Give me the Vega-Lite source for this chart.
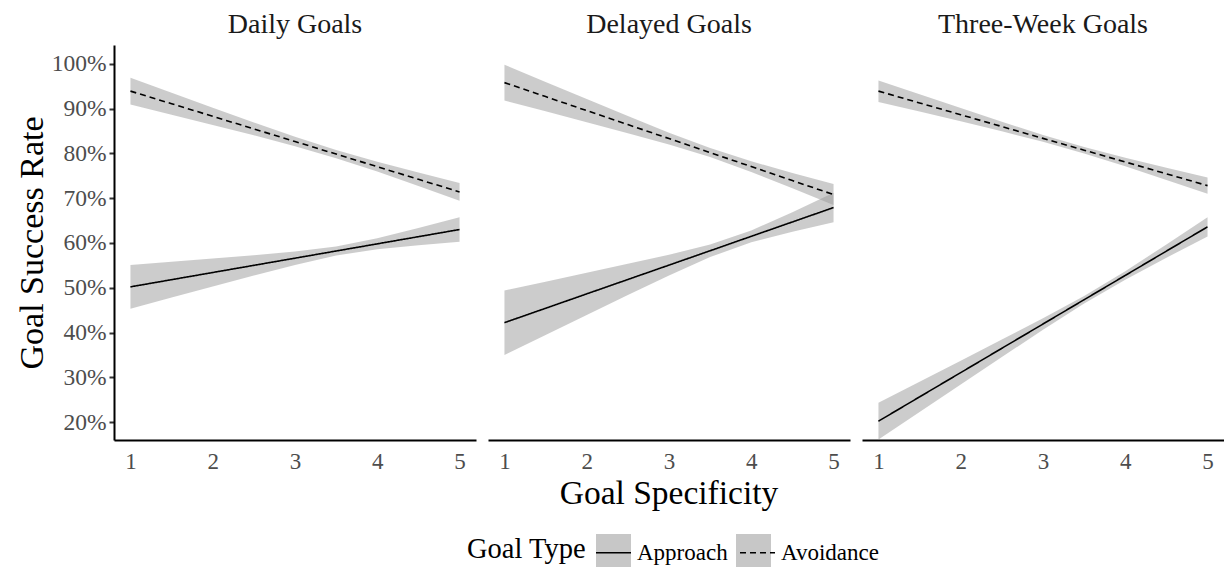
{
  "$schema": "https://vega.github.io/schema/vega-lite/v6.json",
  "background": "white",
  "padding": {"left": 15, "top": 11, "right": 0, "bottom": 0},
  "data": {"values": [
    {"panel": "Daily Goals", "type": "Approach", "x": 1, "fit": 50.2, "lo": 45.3, "hi": 55.1},
    {"panel": "Daily Goals", "type": "Approach", "x": 1.5, "fit": 51.8, "lo": 47.8, "hi": 55.8},
    {"panel": "Daily Goals", "type": "Approach", "x": 2, "fit": 53.4, "lo": 50.28, "hi": 56.52},
    {"panel": "Daily Goals", "type": "Approach", "x": 2.5, "fit": 55.0, "lo": 52.73, "hi": 57.27},
    {"panel": "Daily Goals", "type": "Approach", "x": 3, "fit": 56.6, "lo": 55.1, "hi": 58.1},
    {"panel": "Daily Goals", "type": "Approach", "x": 3.5, "fit": 58.2, "lo": 57.18, "hi": 59.22},
    {"panel": "Daily Goals", "type": "Approach", "x": 4, "fit": 59.8, "lo": 58.57, "hi": 61.03},
    {"panel": "Daily Goals", "type": "Approach", "x": 4.5, "fit": 61.4, "lo": 59.48, "hi": 63.32},
    {"panel": "Daily Goals", "type": "Approach", "x": 5, "fit": 63.0, "lo": 60.25, "hi": 65.75},
    {"panel": "Daily Goals", "type": "Avoidance", "x": 1, "fit": 93.9, "lo": 90.9, "hi": 96.9},
    {"panel": "Daily Goals", "type": "Avoidance", "x": 1.5, "fit": 91.09, "lo": 88.64, "hi": 93.54},
    {"panel": "Daily Goals", "type": "Avoidance", "x": 2, "fit": 88.28, "lo": 86.36, "hi": 90.2},
    {"panel": "Daily Goals", "type": "Avoidance", "x": 2.5, "fit": 85.46, "lo": 84.03, "hi": 86.89},
    {"panel": "Daily Goals", "type": "Avoidance", "x": 3, "fit": 82.65, "lo": 81.6, "hi": 83.7},
    {"panel": "Daily Goals", "type": "Avoidance", "x": 3.5, "fit": 79.84, "lo": 78.94, "hi": 80.74},
    {"panel": "Daily Goals", "type": "Avoidance", "x": 4, "fit": 77.03, "lo": 75.93, "hi": 78.13},
    {"panel": "Daily Goals", "type": "Avoidance", "x": 4.5, "fit": 74.21, "lo": 72.71, "hi": 75.71},
    {"panel": "Daily Goals", "type": "Avoidance", "x": 5, "fit": 71.4, "lo": 69.4, "hi": 73.4},
    {"panel": "Delayed Goals", "type": "Approach", "x": 1, "fit": 42.2, "lo": 35.0, "hi": 49.4},
    {"panel": "Delayed Goals", "type": "Approach", "x": 1.5, "fit": 45.41, "lo": 39.46, "hi": 51.36},
    {"panel": "Delayed Goals", "type": "Approach", "x": 2, "fit": 48.63, "lo": 43.92, "hi": 53.34},
    {"panel": "Delayed Goals", "type": "Approach", "x": 2.5, "fit": 51.84, "lo": 48.35, "hi": 55.33},
    {"panel": "Delayed Goals", "type": "Approach", "x": 3, "fit": 55.05, "lo": 52.71, "hi": 57.39},
    {"panel": "Delayed Goals", "type": "Approach", "x": 3.5, "fit": 58.26, "lo": 56.85, "hi": 59.67},
    {"panel": "Delayed Goals", "type": "Approach", "x": 4, "fit": 61.48, "lo": 60.17, "hi": 62.79},
    {"panel": "Delayed Goals", "type": "Approach", "x": 4.5, "fit": 64.69, "lo": 62.52, "hi": 66.86},
    {"panel": "Delayed Goals", "type": "Approach", "x": 5, "fit": 67.9, "lo": 64.6, "hi": 71.2},
    {"panel": "Delayed Goals", "type": "Avoidance", "x": 1, "fit": 95.8, "lo": 91.8, "hi": 99.8},
    {"panel": "Delayed Goals", "type": "Avoidance", "x": 1.5, "fit": 92.68, "lo": 89.4, "hi": 95.96},
    {"panel": "Delayed Goals", "type": "Avoidance", "x": 2, "fit": 89.55, "lo": 86.97, "hi": 92.13},
    {"panel": "Delayed Goals", "type": "Avoidance", "x": 2.5, "fit": 86.43, "lo": 84.52, "hi": 88.34},
    {"panel": "Delayed Goals", "type": "Avoidance", "x": 3, "fit": 83.3, "lo": 81.97, "hi": 84.63},
    {"panel": "Delayed Goals", "type": "Avoidance", "x": 3.5, "fit": 80.18, "lo": 79.17, "hi": 81.19},
    {"panel": "Delayed Goals", "type": "Avoidance", "x": 4, "fit": 77.05, "lo": 75.87, "hi": 78.23},
    {"panel": "Delayed Goals", "type": "Avoidance", "x": 4.5, "fit": 73.93, "lo": 72.23, "hi": 75.63},
    {"panel": "Delayed Goals", "type": "Avoidance", "x": 5, "fit": 70.8, "lo": 68.45, "hi": 73.15},
    {"panel": "Three-Week Goals", "type": "Approach", "x": 1, "fit": 20.2, "lo": 16.1, "hi": 24.3},
    {"panel": "Three-Week Goals", "type": "Approach", "x": 1.5, "fit": 25.63, "lo": 22.26, "hi": 29.0},
    {"panel": "Three-Week Goals", "type": "Approach", "x": 2, "fit": 31.05, "lo": 28.41, "hi": 33.69},
    {"panel": "Three-Week Goals", "type": "Approach", "x": 2.5, "fit": 36.48, "lo": 34.54, "hi": 38.42},
    {"panel": "Three-Week Goals", "type": "Approach", "x": 3, "fit": 41.9, "lo": 40.61, "hi": 43.19},
    {"panel": "Three-Week Goals", "type": "Approach", "x": 3.5, "fit": 47.33, "lo": 46.49, "hi": 48.17},
    {"panel": "Three-Week Goals", "type": "Approach", "x": 4, "fit": 52.75, "lo": 51.81, "hi": 53.69},
    {"panel": "Three-Week Goals", "type": "Approach", "x": 4.5, "fit": 58.18, "lo": 56.7, "hi": 59.66},
    {"panel": "Three-Week Goals", "type": "Approach", "x": 5, "fit": 63.6, "lo": 61.45, "hi": 65.75},
    {"panel": "Three-Week Goals", "type": "Avoidance", "x": 1, "fit": 93.9, "lo": 91.5, "hi": 96.3},
    {"panel": "Three-Week Goals", "type": "Avoidance", "x": 1.5, "fit": 91.26, "lo": 89.33, "hi": 93.19},
    {"panel": "Three-Week Goals", "type": "Avoidance", "x": 2, "fit": 88.63, "lo": 87.15, "hi": 90.11},
    {"panel": "Three-Week Goals", "type": "Avoidance", "x": 2.5, "fit": 85.99, "lo": 84.92, "hi": 87.06},
    {"panel": "Three-Week Goals", "type": "Avoidance", "x": 3, "fit": 83.35, "lo": 82.58, "hi": 84.12},
    {"panel": "Three-Week Goals", "type": "Avoidance", "x": 3.5, "fit": 80.71, "lo": 79.99, "hi": 81.43},
    {"panel": "Three-Week Goals", "type": "Avoidance", "x": 4, "fit": 78.08, "lo": 77.11, "hi": 79.05},
    {"panel": "Three-Week Goals", "type": "Avoidance", "x": 4.5, "fit": 75.44, "lo": 74.08, "hi": 76.8},
    {"panel": "Three-Week Goals", "type": "Avoidance", "x": 5, "fit": 72.8, "lo": 71.0, "hi": 74.6}
  ]},
  "facet": {
    "column": {
      "field": "panel",
      "type": "nominal",
      "title": "Goal Specificity",
      "header": {
        "labelOrient": "top",
        "titleOrient": "bottom",
        "labelFont": "Liberation Serif",
        "labelFontSize": 28,
        "labelColor": "#1a1a1a",
        "labelPadding": 6,
        "titleFont": "Liberation Serif",
        "titleFontSize": 33.5,
        "titleFontWeight": "normal",
        "titleColor": "black",
        "titlePadding": -5
      }
    }
  },
  "spacing": 12,
  "spec": {
    "width": 362,
    "height": 395,
    "encoding": {
      "x": {
        "field": "x",
        "type": "quantitative",
        "scale": {"domain": [0.8, 5.2], "nice": false, "zero": false},
        "axis": {
          "values": [1, 2, 3, 4, 5],
          "format": "d",
          "title": null,
          "grid": false,
          "ticks": false,
          "domainColor": "black",
          "domainWidth": 2,
          "labelFont": "Liberation Serif",
          "labelFontSize": 23,
          "labelColor": "#4d4d4d",
          "labelPadding": 10
        }
      }
    },
    "layer": [
      {
        "mark": {"type": "area", "opacity": 0.5},
        "encoding": {
          "y": {
            "field": "lo",
            "type": "quantitative",
            "scale": {"domain": [16, 104.2], "nice": false, "zero": false},
            "axis": {
              "values": [20, 30, 40, 50, 60, 70, 80, 90, 100],
              "labelExpr": "datum.value + '%'",
              "title": "Goal Success Rate",
              "grid": false,
              "domainColor": "black",
              "domainWidth": 2,
              "tickColor": "#333333",
              "tickWidth": 2,
              "tickSize": 5,
              "labelFont": "Liberation Serif",
              "labelFontSize": 23.5,
              "labelColor": "#4d4d4d",
              "labelPadding": 3,
              "titleFont": "Liberation Serif",
              "titleFontSize": 34,
              "titleFontWeight": "normal",
              "titleColor": "black",
              "titlePadding": 2
            }
          },
          "y2": {"field": "hi"},
          "fill": {
            "field": "type",
            "type": "nominal",
            "scale": {"domain": ["Approach", "Avoidance"], "range": ["#999999", "#999999"]},
            "legend": {
              "title": null,
              "orient": "none",
              "legendX": 482,
              "legendY": 489,
              "zindex": 1,
              "direction": "horizontal",
              "labelExpr": "''",
              "labelFontSize": 23,
              "labelOffset": 5,
              "symbolType": "square",
              "symbolOpacity": 0.55,
              "symbolStrokeWidth": 0,
              "symbolSize": 1225,
              "columnPadding": 100
            }
          }
        }
      },
      {
        "mark": {"type": "line", "color": "black", "strokeWidth": 1.6},
        "encoding": {
          "y": {"field": "fit", "type": "quantitative"},
          "strokeDash": {
            "field": "type",
            "type": "nominal",
            "scale": {"range": [[1, 0], [6, 4]]},
            "legend": {
              "title": "Goal Type",
              "orient": "none",
              "legendX": 353,
              "legendY": 489,
              "zindex": 2,
              "direction": "horizontal",
              "titleOrient": "left",
              "titleFont": "Liberation Serif",
              "titleFontSize": 28.5,
              "titleFontWeight": "normal",
              "titleColor": "black",
              "titlePadding": 8,
              "labelFont": "Liberation Serif",
              "labelFontSize": 23,
              "labelColor": "black",
              "labelOffset": 5,
              "symbolType": "stroke",
              "symbolStrokeColor": "black",
              "symbolStrokeWidth": 1.6,
              "symbolSize": 1225,
              "columnPadding": 8
            }
          }
        }
      }
    ]
  },
  "config": {
    "view": {"stroke": null},
    "font": "Liberation Serif"
  }
}
